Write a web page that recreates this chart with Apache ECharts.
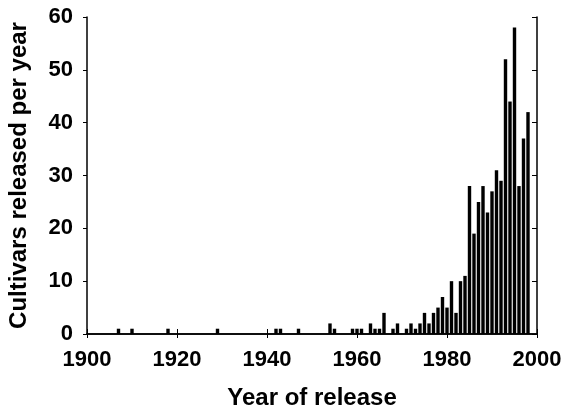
<!DOCTYPE html>
<html>
<head>
<meta charset="utf-8">
<script src="https://cdn.jsdelivr.net/npm/echarts@6/dist/echarts.min.js"></script>
<style>
  html, body { margin: 0; padding: 0; background: #fff; }
  #chart { width: 563px; height: 410px; }
</style>
</head>
<body>
<div id="chart"></div>
<script>
// release years and counts
const years = [1907, 1910, 1918, 1929, 1942, 1943, 1947, 1954, 1955, 1959, 1960, 1961,
  1963, 1964, 1965, 1966, 1968, 1969, 1971, 1972, 1973, 1974, 1975, 1976, 1977, 1978,
  1979, 1980, 1981, 1982, 1983, 1984, 1985, 1986, 1987, 1988, 1989, 1990, 1991, 1992,
  1993, 1994, 1995, 1996, 1997, 1998];
const counts = [1, 1, 1, 1, 1, 1, 1, 2, 1, 1, 1, 1,
  2, 1, 1, 4, 1, 2, 1, 2, 1, 2, 4, 2, 4, 5,
  7, 5, 10, 4, 10, 11, 28, 19, 25, 28, 23, 27, 31, 29,
  52, 44, 58, 28, 37, 42];
const xTicks = [1900, 1920, 1940, 1960, 1980, 2000];
const yTicks = [0, 10, 20, 30, 40, 50, 60];

let chart = echarts.init(document.getElementById('chart'))
let font = 'Liberation Sans, Arial, sans-serif'
let lbl = { color: '#000', fontFamily: font, fontWeight: 'bold', fontSize: 22 }
let line = { show: true, lineStyle: { color: '#000', width: 1.5 } }

let option = {
    animation: false,
    grid: { left: 87, right: 26, top: 17, bottom: 76, containLabel: false, outerBoundsMode: 'none' },
    xAxis: [{
        type: 'value', position: 'bottom',
        min: xTicks[0], max: xTicks[xTicks.length - 1], interval: 20,
        axisLine: line,
        axisTick: { show: true, inside: true, length: 5, lineStyle: { color: '#000' } },
        axisLabel: Object.assign({ margin: 15, formatter: v => String(v) }, lbl),
        splitLine: { show: false },
        name: 'Year of release', nameLocation: 'middle', nameGap: 52,
        nameTextStyle: Object.assign({}, lbl, { fontSize: 24 })
    }, {
        type: 'value', position: 'top',
        min: xTicks[0], max: xTicks[xTicks.length - 1], interval: 20,
        axisLine: line,
        axisTick: { show: true, inside: true, length: 4, lineStyle: { color: '#000' } },
        axisLabel: { show: false }, splitLine: { show: false }
    }],
    yAxis: [{
        type: 'value', position: 'left',
        min: yTicks[0], max: yTicks[yTicks.length - 1], interval: 10,
        axisLine: line,
        axisTick: { show: true, length: 4, lineStyle: { color: '#000' } },
        axisLabel: Object.assign({ margin: 14 }, lbl),
        splitLine: { show: false },
        name: 'Cultivars released per year', nameLocation: 'middle', nameGap: 56,
        nameTextStyle: Object.assign({}, lbl, { fontSize: 24 })
    }, {
        type: 'value', position: 'right',
        min: yTicks[0], max: yTicks[yTicks.length - 1], interval: 10,
        axisLine: line,
        axisTick: { show: true, inside: true, length: 5, lineStyle: { color: '#000' } },
        axisLabel: { show: false }, splitLine: { show: false }
    }],
    series: [{
        type: 'bar',
        barWidth: 3.4,
        itemStyle: { color: '#000' },
        data: years.map((y, i) => [y, counts[i]])
    }]
}
chart.setOption(option)
</script>
</body>
</html>
